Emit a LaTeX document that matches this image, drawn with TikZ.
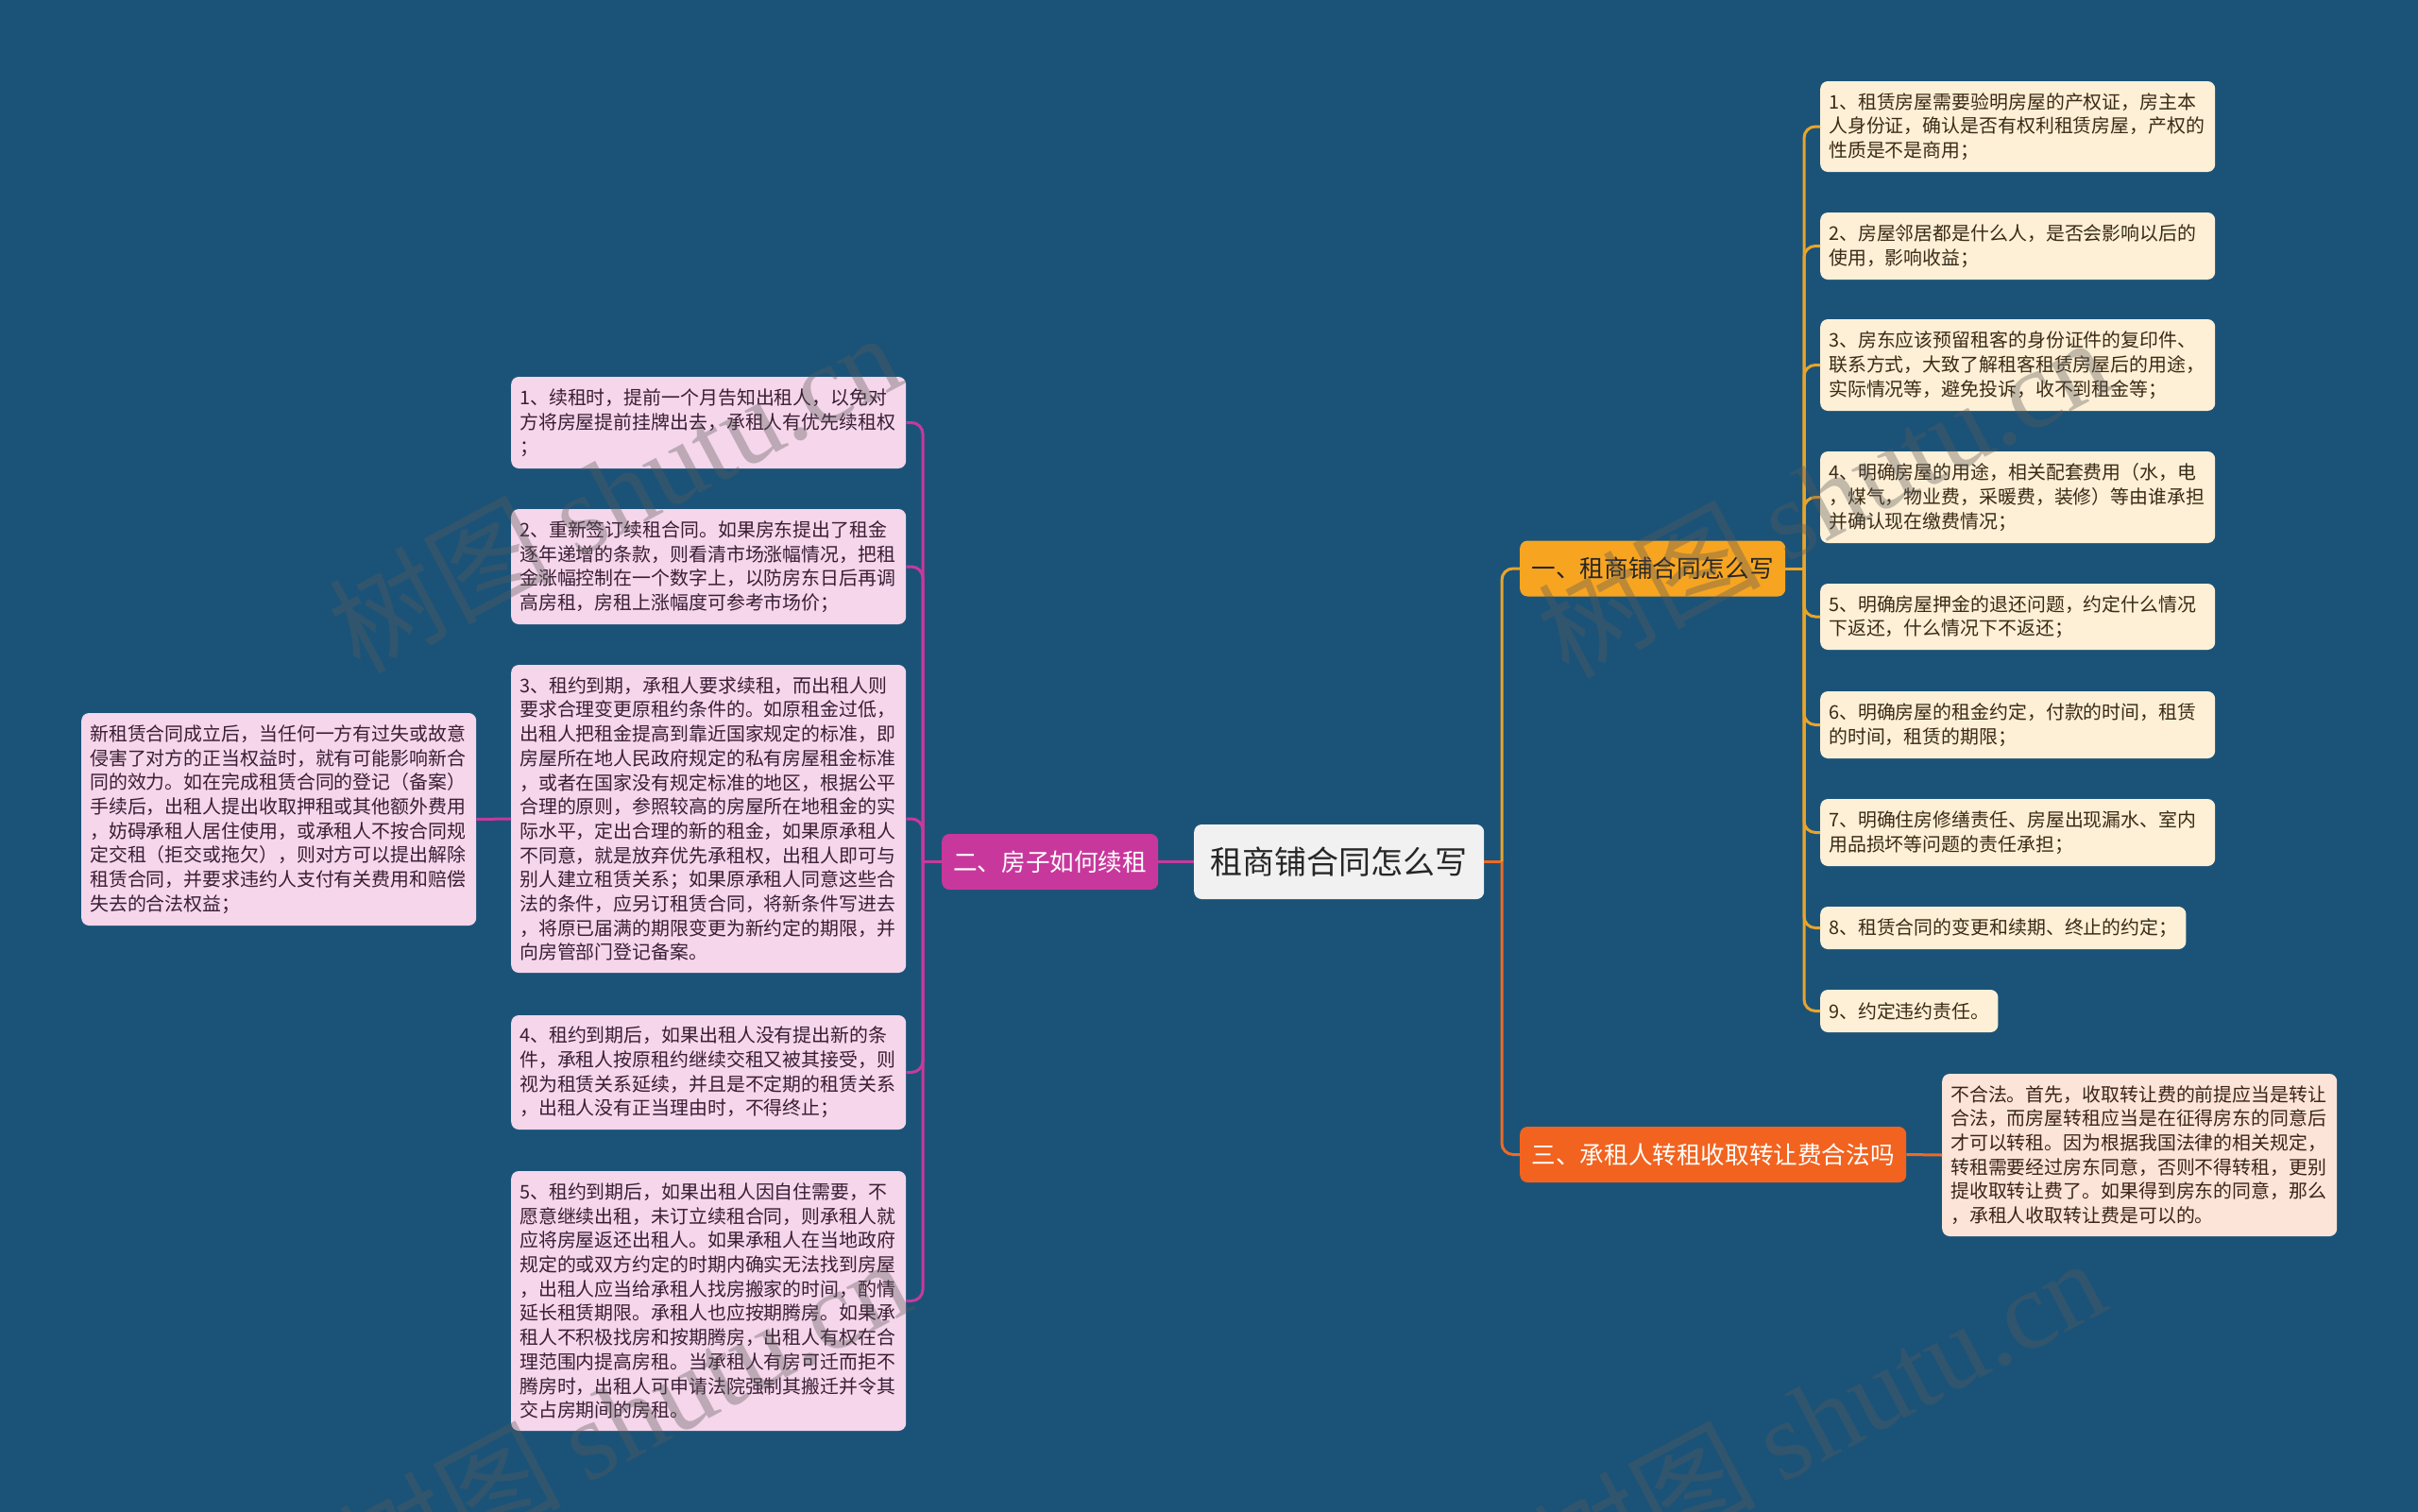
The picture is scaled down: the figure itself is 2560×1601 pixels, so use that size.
\documentclass[tikz,border=0pt]{standalone}
\usepackage{fontspec}
\setmainfont{Noto Sans CJK SC}
\newfontfamily\wmfont{Liberation Serif}
\definecolor{bg}{HTML}{1B5378}
\definecolor{rootfill}{HTML}{F1F1F1}
\definecolor{bOne}{HTML}{F7A521}
\definecolor{bTwo}{HTML}{C8389C}
\definecolor{bThree}{HTML}{F2631F}
\definecolor{lfOne}{HTML}{FDF0D6}
\definecolor{lfTwo}{HTML}{F5D6EB}
\definecolor{lfThree}{HTML}{FDE4D8}
\definecolor{cOne}{HTML}{E9A42A}
\definecolor{cTwo}{HTML}{C63A9B}
\definecolor{cThree}{HTML}{EE6A24}
\definecolor{txOne}{HTML}{3B2A16}
\definecolor{txTwo}{HTML}{3A1E33}
\definecolor{txThree}{HTML}{3D2418}
\definecolor{wmgray}{HTML}{5A5A5A}
\begin{document}
\begin{tikzpicture}[x=1pt,y=-1pt,
  leafbase/.style={rounded corners=8pt, inner xsep=9pt, inner ysep=3pt, anchor=west,
    font=\fontsize{19.9pt}{25.7pt}\selectfont},
  rleaf/.style={leafbase, fill=lfOne, text=txOne, text width=400pt, align=left},
  rleafone/.style={leafbase, fill=lfOne, text=txOne},
  lleaf/.style={leafbase, fill=lfTwo, text=txTwo, text width=400pt, align=left},
  tleaf/.style={leafbase, fill=lfThree, text=txThree, text width=400pt, align=left},
  branch/.style={rounded corners=8pt, anchor=west, minimum height=59pt, inner sep=0pt,
    font=\fontsize{25.6pt}{30pt}\selectfont},
  rootbox/.style={rounded corners=8pt, anchor=west, minimum height=79pt, minimum width=307pt,
    inner sep=0pt, fill=rootfill, text=black!85, font=\fontsize{34pt}{40pt}\selectfont},
  lnOne/.style={draw=cOne, line width=3pt},
  lnTwo/.style={draw=cTwo, line width=3pt},
  lnThree/.style={draw=cThree, line width=3pt},
  wm/.style={text=wmgray, opacity=0.36, font=\fontsize{118pt}{120pt}\selectfont, rotate=28}
]
\useasboundingbox (0,0) rectangle (2560,1601);
\fill[bg] (0,0) rectangle (2560,1601);

% root and branches
\node[rootbox] (root) at (1264,912.5) {租商铺合同怎么写};
\node[branch, fill=bOne, text=black!85, minimum width=281pt] (b1) at (1609,602) {一、租商铺合同怎么写};
\node[branch, fill=bTwo, text=white, minimum width=229pt] (b2) at (997,912.5) {二、房子如何续租};
\node[branch, fill=bThree, text=white, minimum width=409pt] (b3) at (1609,1222.5) {三、承租人转租收取转让费合法吗};

% right leaves
\node[rleaf, minimum height=96pt] (r1) at (1927,134) {1、租赁房屋需要验明房屋的产权证，房主本\\人身份证，确认是否有权利租赁房屋，产权的\\性质是不是商用；};
\node[rleaf, minimum height=71pt] (r2) at (1927,260.5) {2、房屋邻居都是什么人，是否会影响以后的\\使用，影响收益；};
\node[rleaf, minimum height=97pt] (r3) at (1927,386.5) {3、房东应该预留租客的身份证件的复印件、\\联系方式，大致了解租客租赁房屋后的用途，\\实际情况等，避免投诉，收不到租金等；};
\node[rleaf, minimum height=97pt] (r4) at (1927,526.5) {4、明确房屋的用途，相关配套费用（水，电\\，煤气，物业费，采暖费，装修）等由谁承担\\并确认现在缴费情况；};
\node[rleaf, minimum height=70pt] (r5) at (1927,653) {5、明确房屋押金的退还问题，约定什么情况\\下返还，什么情况下不返还；};
\node[rleaf, minimum height=71pt] (r6) at (1927,767.5) {6、明确房屋的租金约定，付款的时间，租赁\\的时间，租赁的期限；};
\node[rleaf, minimum height=71pt] (r7) at (1927,881.5) {7、明确住房修缮责任、房屋出现漏水、室内\\用品损坏等问题的责任承担；};
\node[rleafone, minimum height=45pt] (r8) at (1927,982.5) {8、租赁合同的变更和续期、终止的约定；};
\node[rleafone, minimum height=45pt] (r9) at (1927,1070.5) {9、约定违约责任。};

% branch three leaf
\node[tleaf, minimum height=172pt] (t1) at (2056,1223) {不合法。首先，收取转让费的前提应当是转让\\合法，而房屋转租应当是在征得房东的同意后\\才可以转租。因为根据我国法律的相关规定，\\转租需要经过房东同意，否则不得转租，更别\\提收取转让费了。如果得到房东的同意，那么\\，承租人收取转让费是可以的。};

% left leaves
\node[lleaf, minimum height=97pt] (l1) at (541,447.5) {1、续租时，提前一个月告知出租人，以免对\\方将房屋提前挂牌出去，承租人有优先续租权\\；};
\node[lleaf, minimum height=122pt] (l2) at (541,600) {2、重新签订续租合同。如果房东提出了租金\\逐年递增的条款，则看清市场涨幅情况，把租\\金涨幅控制在一个数字上，以防房东日后再调\\高房租，房租上涨幅度可参考市场价；};
\node[lleaf, minimum height=326pt] (l3) at (541,867) {3、租约到期，承租人要求续租，而出租人则\\要求合理变更原租约条件的。如原租金过低，\\出租人把租金提高到靠近国家规定的标准，即\\房屋所在地人民政府规定的私有房屋租金标准\\，或者在国家没有规定标准的地区，根据公平\\合理的原则，参照较高的房屋所在地租金的实\\际水平，定出合理的新的租金，如果原承租人\\不同意，就是放弃优先承租权，出租人即可与\\别人建立租赁关系；如果原承租人同意这些合\\法的条件，应另订租赁合同，将新条件写进去\\，将原已届满的期限变更为新约定的期限，并\\向房管部门登记备案。};
\node[lleaf, minimum height=121pt] (l4) at (541,1135.5) {4、租约到期后，如果出租人没有提出新的条\\件，承租人按原租约继续交租又被其接受，则\\视为租赁关系延续，并且是不定期的租赁关系\\，出租人没有正当理由时，不得终止；};
\node[lleaf, minimum height=275pt] (l5) at (541,1377.5) {5、租约到期后，如果出租人因自住需要，不\\愿意继续出租，未订立续租合同，则承租人就\\应将房屋返还出租人。如果承租人在当地政府\\规定的或双方约定的时期内确实无法找到房屋\\，出租人应当给承租人找房搬家的时间，酌情\\延长租赁期限。承租人也应按期腾房。如果承\\租人不积极找房和按期腾房，出租人有权在合\\理范围内提高房租。当承租人有房可迁而拒不\\腾房时，出租人可申请法院强制其搬迁并令其\\交占房期间的房租。};
\node[lleaf, minimum height=225pt] (f1) at (86,867.5) {新租赁合同成立后，当任何一方有过失或故意\\侵害了对方的正当权益时，就有可能影响新合\\同的效力。如在完成租赁合同的登记（备案）\\手续后，出租人提出收取押租或其他额外费用\\，妨碍承租人居住使用，或承租人不按合同规\\定交租（拒交或拖欠），则对方可以提出解除\\租赁合同，并要求违约人支付有关费用和赔偿\\失去的合法权益；};

% junction coordinates
\coordinate (jr) at (1590,912.5);
\coordinate (j1) at (1910,602);
\coordinate (j2) at (977,912.5);

% connectors
\draw[lnThree] (root.east) -- (jr);
\draw[lnOne, rounded corners=12pt] (jr) |- (b1.west);
\draw[lnThree, rounded corners=12pt] (jr) |- (b3.west);
\draw[lnTwo] (root.west) -- (b2.east);
\draw[lnThree] (b3.east) -- (t1.west);
\draw[lnOne] (b1.east) -- (j1);
\foreach \n in {r1,r2,r3,r4,r5,r6,r7,r8,r9} {
  \draw[lnOne, rounded corners=12pt] (j1) |- (\n.west);
}
\draw[lnTwo] (b2.west) -- (j2);
\foreach \n in {l1,l2,l3,l4,l5} {
  \draw[lnTwo, rounded corners=12pt] (j2) |- (\n.east);
}
\draw[lnTwo] (l3.west) -- (f1.east);

% watermarks
\node[wm] (w1) at (650,520) {树图 {\wmfont shutu.cn}};
\node[wm] (w2) at (1930,525) {树图 {\wmfont shutu.cn}};
\node[wm] (w3) at (660,1500) {树图 {\wmfont shutu.cn}};
\node[wm] (w4) at (1925,1500) {树图 {\wmfont shutu.cn}};
\end{tikzpicture}
\end{document}
